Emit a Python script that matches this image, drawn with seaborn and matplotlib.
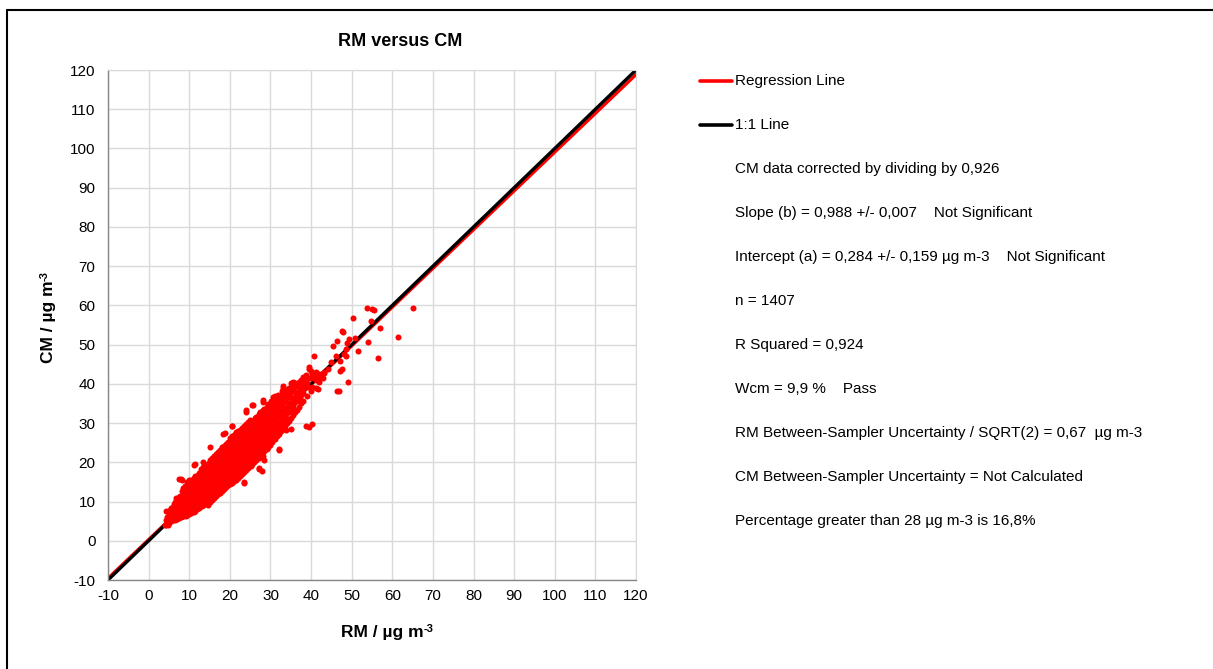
import matplotlib
matplotlib.use("Agg")
import matplotlib.pyplot as plt
from matplotlib.lines import Line2D
import numpy as np
import pandas as pd
import seaborn as sns

# --- DATA ---
# dense band of RM / CM pairs, column by column
core_pts = [
    (4.1, 4.0), (4.3, 5.2), (4.6, 6.0),
    (5.0, 4.6), (5.2, 5.8), (4.9, 7.0), (5.3, 7.9),
    (6.0, 5.2), (5.8, 6.3), (6.2, 7.4), (6.0, 8.5), (6.3, 9.3),
    (7.1, 5.6), (6.9, 6.7), (7.2, 7.8), (7.0, 8.9), (7.3, 10.0), (6.8, 11.0),
    (8.0, 6.0), (8.2, 7.1), (7.9, 8.2), (8.1, 9.3), (8.3, 10.4), (7.8, 11.5), (8.2, 12.6),
    (9.1, 6.3), (8.9, 7.4), (9.2, 8.5), (9.0, 9.6), (9.3, 10.7), (8.8, 11.8), (9.1, 12.9), (9.0, 13.9),
    (10.0, 6.8), (10.2, 7.9), (9.9, 9.0), (10.1, 10.1), (10.3, 11.2), (9.8, 12.3), (10.1, 13.4), (10.2, 14.5), (9.9, 15.4),
    (11.1, 7.3), (10.9, 8.4), (11.2, 9.5), (11.0, 10.6), (11.3, 11.7), (10.8, 12.8), (11.1, 13.9), (11.0, 15.0), (11.2, 16.0),
    (12.0, 8.0), (12.2, 9.1), (11.9, 10.2), (12.1, 11.3), (12.3, 12.4), (11.8, 13.5), (12.1, 14.6), (12.0, 15.7), (12.2, 16.8),
    (13.1, 8.8), (12.9, 9.9), (13.2, 11.0), (13.0, 12.1), (13.3, 13.2), (12.8, 14.3), (13.1, 15.4), (13.0, 16.5), (13.2, 17.6), (12.9, 18.4),
    (14.0, 9.4), (14.2, 10.5), (13.9, 11.6), (14.1, 12.7), (14.3, 13.8), (13.8, 14.9), (14.1, 16.0), (14.0, 17.1), (14.2, 18.2), (13.9, 19.3),
    (15.1, 10.0), (14.9, 11.1), (15.2, 12.2), (15.0, 13.3), (15.3, 14.4), (14.8, 15.5), (15.1, 16.6), (15.0, 17.7), (15.2, 18.8), (14.9, 19.9), (15.1, 20.6),
    (16.0, 11.0), (16.2, 12.1), (15.9, 13.2), (16.1, 14.3), (16.3, 15.4), (15.8, 16.5), (16.1, 17.6), (16.0, 18.7), (16.2, 19.8), (15.9, 20.9), (16.1, 21.5),
    (17.1, 11.9), (16.9, 13.0), (17.2, 14.1), (17.0, 15.2), (17.3, 16.3), (16.8, 17.4), (17.1, 18.5), (17.0, 19.6), (17.2, 20.7), (16.9, 21.8), (17.1, 22.6),
    (18.0, 12.8), (18.2, 13.9), (17.9, 15.0), (18.1, 16.1), (18.3, 17.2), (17.8, 18.3), (18.1, 19.4), (18.0, 20.5), (18.2, 21.6), (17.9, 22.7), (18.1, 23.8),
    (19.1, 13.7), (18.9, 14.8), (19.2, 15.9), (19.0, 17.0), (19.3, 18.1), (18.8, 19.2), (19.1, 20.3), (19.0, 21.4), (19.2, 22.5), (18.9, 23.6), (19.1, 24.7),
    (20.0, 14.5), (20.2, 15.6), (19.9, 16.7), (20.1, 17.8), (20.3, 18.9), (19.8, 20.0), (20.1, 21.1), (20.0, 22.2), (20.2, 23.3), (19.9, 24.4), (20.1, 25.5), (20.0, 26.3),
    (21.1, 15.2), (20.9, 16.3), (21.2, 17.4), (21.0, 18.5), (21.3, 19.6), (20.8, 20.7), (21.1, 21.8), (21.0, 22.9), (21.2, 24.0), (20.9, 25.1), (21.1, 26.2), (21.0, 27.0),
    (22.0, 16.0), (22.2, 17.1), (21.9, 18.2), (22.1, 19.3), (22.3, 20.4), (21.8, 21.5), (22.1, 22.6), (22.0, 23.7), (22.2, 24.8), (21.9, 25.9), (22.1, 27.0), (22.0, 27.9),
    (23.1, 17.0), (22.9, 18.1), (23.2, 19.2), (23.0, 20.3), (23.3, 21.4), (22.8, 22.5), (23.1, 23.6), (23.0, 24.7), (23.2, 25.8), (22.9, 26.9), (23.1, 28.0), (23.0, 28.8),
    (24.0, 18.0), (24.2, 19.1), (23.9, 20.2), (24.1, 21.3), (24.3, 22.4), (23.8, 23.5), (24.1, 24.6), (24.0, 25.7), (24.2, 26.8), (23.9, 27.9), (24.1, 29.0), (24.0, 29.8),
    (25.1, 19.0), (24.9, 20.1), (25.2, 21.2), (25.0, 22.3), (25.3, 23.4), (24.8, 24.5), (25.1, 25.6), (25.0, 26.7), (25.2, 27.8), (24.9, 28.9), (25.1, 30.0), (25.0, 30.8),
    (26.0, 20.2), (26.2, 21.3), (25.9, 22.4), (26.1, 23.5), (26.3, 24.6), (25.8, 25.7), (26.1, 26.8), (26.0, 27.9), (26.2, 29.0), (25.9, 30.1), (26.1, 31.2),
    (27.1, 21.2), (26.9, 22.3), (27.2, 23.4), (27.0, 24.5), (27.3, 25.6), (26.8, 26.7), (27.1, 27.8), (27.0, 28.9), (27.2, 30.0), (26.9, 31.1), (27.1, 32.2),
    (28.0, 22.4), (28.2, 23.5), (27.9, 24.6), (28.1, 25.7), (28.3, 26.8), (27.8, 27.9), (28.1, 29.0), (28.0, 30.1), (28.2, 31.2), (27.9, 32.3), (28.1, 33.3),
    (29.1, 23.3), (28.9, 24.4), (29.2, 25.5), (29.0, 26.6), (29.3, 27.7), (28.8, 28.8), (29.1, 29.9), (29.0, 31.0), (29.2, 32.1), (28.9, 33.2), (29.1, 34.2),
    (30.0, 24.5), (30.2, 25.6), (29.9, 26.7), (30.1, 27.8), (30.3, 28.9), (29.8, 30.0), (30.1, 31.1), (30.0, 32.2), (30.2, 33.3), (29.9, 34.4), (30.1, 35.5),
    (31.1, 26.0), (30.9, 27.1), (31.2, 28.2), (31.0, 29.3), (31.3, 30.4), (30.8, 31.5), (31.1, 32.6), (31.0, 33.7), (31.2, 34.8), (30.9, 35.9), (31.1, 36.8),
    (32.0, 27.2), (32.2, 28.3), (31.9, 29.4), (32.1, 30.5), (32.3, 31.6), (31.8, 32.7), (32.1, 33.8), (32.0, 34.9), (32.2, 36.0), (31.9, 37.1),
    (33.1, 28.5), (32.9, 29.6), (33.2, 30.7), (33.0, 31.8), (33.3, 32.9), (32.8, 34.0), (33.1, 35.1), (33.0, 36.2), (33.2, 37.3), (32.9, 38.2),
    (34.0, 30.0), (34.2, 31.1), (33.9, 32.2), (34.1, 33.3), (34.3, 34.4), (33.8, 35.5), (34.1, 36.6), (34.0, 37.7), (34.2, 38.6),
    (35.1, 31.2), (35.2, 33.4), (35.0, 34.5), (35.3, 35.6), (34.8, 36.7), (35.1, 37.8), (35.0, 38.9), (35.2, 39.8),
    (36.0, 32.8), (35.9, 35.0), (36.1, 36.1), (36.3, 37.2), (35.8, 38.3), (36.1, 39.4), (36.0, 40.3),
    (37.1, 34.0), (37.2, 36.2), (37.0, 37.3), (37.3, 38.4), (36.8, 39.5), (37.1, 40.5),
    (38.0, 35.5), (37.9, 37.7), (38.1, 38.8), (38.3, 39.9), (37.9, 40.9), (38.1, 41.8),
    (39.1, 37.0), (39.2, 39.2), (39.0, 40.3), (39.3, 41.4), (38.8, 42.3),
    (40.0, 38.2), (40.2, 39.3), (40.1, 41.5), (40.3, 42.4), (40.0, 43.4),
    (41.1, 38.9), (41.2, 41.1), (41.0, 42.2), (41.3, 43.0),
    (42.0, 40.5), (42.2, 41.6), (41.9, 42.6),
    (43.0, 41.5), (43.2, 42.8),
]

# in-between columns of the dense band (RM value, CM values at that RM)
half_cols = [
    (5.5, [5.0, 6.1, 7.2, 8.3]),
    (6.5, [5.4, 6.5, 7.6, 8.7, 9.8]),
    (7.5, [5.8, 6.9, 8.0, 9.1, 10.2, 11.2]),
    (8.5, [6.2, 7.3, 8.4, 9.5, 10.6, 11.7, 12.8, 13.5]),
    (9.5, [6.6, 7.7, 8.8, 9.9, 11.0, 12.1, 13.2, 14.3, 15.0]),
    (10.5, [7.0, 8.1, 9.2, 10.3, 11.4, 12.5, 13.6, 14.7, 15.6]),
    (11.5, [7.6, 8.7, 9.8, 10.9, 12.0, 13.1, 14.2, 15.3, 16.4]),
    (12.5, [8.4, 9.5, 10.6, 11.7, 12.8, 13.9, 15.0, 16.1, 17.2]),
    (13.5, [9.1, 10.2, 11.3, 12.4, 13.5, 14.6, 15.7, 16.8, 17.9, 18.9]),
    (14.5, [9.7, 10.8, 11.9, 13.0, 14.1, 15.2, 16.3, 17.4, 18.5, 19.6]),
    (15.5, [10.5, 11.6, 12.7, 13.8, 14.9, 16.0, 17.1, 18.2, 19.3, 20.4, 21.1]),
    (16.5, [11.4, 12.5, 13.6, 14.7, 15.8, 16.9, 18.0, 19.1, 20.2, 21.3, 22.1]),
    (17.5, [12.3, 13.4, 14.5, 15.6, 16.7, 17.8, 18.9, 20.0, 21.1, 22.2, 23.2]),
    (18.5, [13.2, 14.3, 15.4, 16.5, 17.6, 18.7, 19.8, 20.9, 22.0, 23.1, 24.2]),
    (19.5, [14.1, 15.2, 16.3, 17.4, 18.5, 19.6, 20.7, 21.8, 22.9, 24.0, 25.1]),
    (20.5, [14.8, 15.9, 17.0, 18.1, 19.2, 20.3, 21.4, 22.5, 23.6, 24.7, 25.8, 26.6]),
    (21.5, [15.6, 16.7, 17.8, 18.9, 20.0, 21.1, 22.2, 23.3, 24.4, 25.5, 26.6, 27.4]),
    (22.5, [16.5, 17.6, 18.7, 19.8, 20.9, 22.0, 23.1, 24.2, 25.3, 26.4, 27.5, 28.3]),
    (23.5, [17.5, 18.6, 19.7, 20.8, 21.9, 23.0, 24.1, 25.2, 26.3, 27.4, 28.5, 29.3]),
    (24.5, [18.5, 19.6, 20.7, 21.8, 22.9, 24.0, 25.1, 26.2, 27.3, 28.4, 29.5, 30.3]),
    (25.5, [19.6, 20.7, 21.8, 22.9, 24.0, 25.1, 26.2, 27.3, 28.4, 29.5, 30.6]),
    (26.5, [20.7, 21.8, 22.9, 24.0, 25.1, 26.2, 27.3, 28.4, 29.5, 30.6, 31.6]),
    (27.5, [21.8, 22.9, 24.0, 25.1, 26.2, 27.3, 28.4, 29.5, 30.6, 31.7, 32.7]),
    (28.5, [22.9, 24.0, 25.1, 26.2, 27.3, 28.4, 29.5, 30.6, 31.7, 32.8, 33.7]),
    (29.5, [23.9, 25.0, 26.1, 27.2, 28.3, 29.4, 30.5, 31.6, 32.7, 33.8, 34.8]),
    (30.5, [25.3, 26.4, 27.5, 28.6, 29.7, 30.8, 31.9, 33.0, 34.1, 35.2]),
    (31.5, [26.6, 28.8, 30.0, 32.1, 34.3, 36.3]),
    (32.5, [27.9, 30.1, 32.3, 34.5, 36.7]),
    (33.5, [29.2, 31.4, 33.6, 35.8, 37.8]),
    (34.5, [30.6, 32.8, 35.0, 37.2, 39.0]),
    (35.5, [32.0, 34.2, 36.4, 38.6]),
    (36.5, [33.4, 35.6, 37.8, 40.0]),
    (37.5, [35.0, 37.1, 39.2, 41.0]),
]

# scattered points around the band and the high-value tail
outer_pts = [
    (4.3, 3.9), (4.7, 3.9), (4.4, 7.7), (8.4, 6.4), (10.1, 7.4), (14.6, 9.2),
    (7.6, 15.7), (8.0, 15.7), (8.3, 15.5), (11.1, 19.4), (11.3, 19.6), (13.4, 20.0),
    (15.0, 23.8), (18.3, 27.2), (18.7, 27.5), (21.6, 27.6), (20.5, 29.3), (20.6, 29.3),
    (19.1, 14.1), (23.4, 14.6), (23.4, 14.9), (27.3, 18.3), (27.9, 17.9), (27.3, 18.6),
    (28.1, 21.7), (28.5, 20.6), (32.2, 23.1), (32.2, 23.4), (33.9, 28.2), (35.1, 28.5),
    (24.0, 33.3), (24.0, 32.9), (25.6, 34.7), (25.5, 34.6), (28.1, 35.8), (28.1, 35.4),
    (30.6, 36.6), (33.0, 39.0), (33.0, 39.5), (35.1, 40.3), (35.5, 40.5),
    (38.8, 29.3), (39.6, 28.9), (40.2, 29.7),
    (39.6, 43.9), (39.6, 44.2), (40.8, 47.0), (41.6, 38.7), (42.0, 41.2), (42.5, 41.9),
    (43.3, 42.9), (44.1, 43.9), (44.9, 45.6), (45.3, 49.7), (46.2, 47.0), (46.4, 50.8),
    (46.5, 38.2), (46.8, 38.3), (47.0, 45.8), (47.0, 43.3), (47.5, 43.7), (47.6, 53.5),
    (47.8, 53.1), (48.2, 47.5), (48.5, 48.8), (48.6, 47.0), (48.9, 50.3), (49.2, 40.5),
    (49.4, 51.5), (50.2, 56.7), (50.7, 51.6), (51.6, 48.3), (53.8, 59.4), (53.9, 50.7),
    (54.8, 56.0), (55.0, 59.1), (55.5, 58.9), (56.4, 46.6), (57.0, 54.2), (61.5, 51.9),
    (65.2, 59.4),
]

slope = 0.988
intercept = 0.284
axis_ticks = list(range(-10, 121, 10))

info_lines = [
    "CM data corrected by dividing by 0,926",
    "Slope (b) = 0,988 +/- 0,007    Not Significant",
    "Intercept (a) = 0,284 +/- 0,159 µg m-3    Not Significant",
    "n = 1407",
    "R Squared = 0,924",
    "Wcm = 9,9 %    Pass",
    "RM Between-Sampler Uncertainty / SQRT(2) = 0,67  µg m-3",
    "CM Between-Sampler Uncertainty = Not Calculated",
    "Percentage greater than 28 µg m-3 is 16,8%",
]

# --- BUILD TABLES ---
half_pts = [(x, y) for x, ys in half_cols for y in ys]
pts = pd.DataFrame(core_pts + half_pts + outer_pts, columns=["RM", "CM"])
line_x = np.array([axis_ticks[0], axis_ticks[-1]], dtype=float)
lines = pd.DataFrame({
    "RM": np.concatenate([line_x, line_x]),
    "CM": np.concatenate([slope * line_x + intercept, line_x]),
    "kind": ["Regression Line"] * 2 + ["1:1 Line"] * 2,
})

# --- PLOT ---
sns.set_style("white")
plt.rcParams["font.family"] = ["Liberation Sans", "DejaVu Sans"]
plt.rcParams["axes.unicode_minus"] = False
plt.rcParams["text.color"] = "black"
plt.rcParams["xtick.color"] = "black"
plt.rcParams["ytick.color"] = "black"

W, H = 1213, 669
fig = plt.figure(figsize=(W / 100, H / 100), dpi=100)
ax = fig.add_axes([108 / W, 1 - 580 / H, 528 / W, 510 / H])

sns.lineplot(data=lines, x="RM", y="CM", hue="kind",
             palette={"Regression Line": "#ff0000", "1:1 Line": "#000000"},
             linewidth=2.4, legend=False, ax=ax, zorder=2)
sns.scatterplot(data=pts, x="RM", y="CM", color="#ff0000", s=19,
                linewidth=0, ax=ax, zorder=3)

ax.set_xlim(-10, 120)
ax.set_ylim(-10, 120)
ax.set_xticks(axis_ticks)
ax.set_yticks(axis_ticks)
ax.grid(True, color="#d9d9d9", linewidth=1)
ax.set_axisbelow(True)
for side in ["top", "right"]:
    ax.spines[side].set_color("#d9d9d9")
for side in ["left", "bottom"]:
    ax.spines[side].set_color("#868686")
    ax.spines[side].set_linewidth(1)
ax.tick_params(axis="x", direction="inout", length=7, color="#868686",
               labelsize=11, pad=3)
ax.tick_params(axis="y", direction="out", length=5, color="#868686",
               labelsize=11, pad=4)
ax.set_xlabel("")
ax.set_ylabel("")

fig.text(400 / W, 1 - 41 / H, "RM versus CM", ha="center", va="center",
         fontsize=13, fontweight="bold")

# axis titles with a plain "-3" superscript
xlab = fig.text(382 / W, 1 - 632 / H, "RM / µg m", ha="center",
                va="center", fontsize=12.5, fontweight="bold")
ax.annotate("-3", xy=(1.0, 1.05), xycoords=xlab, ha="left", va="top",
            fontsize=8, fontweight="bold")
ylab = fig.text(48 / W, 1 - 322 / H, "CM / µg m", ha="center",
                va="center", fontsize=12.5, fontweight="bold", rotation=90)
ax.annotate("-3", xy=(-0.05, 1.0), xycoords=ylab, ha="left", va="bottom",
            fontsize=8, fontweight="bold", rotation=90)

# legend-like entries on the right
legend_items = [("Regression Line", "#ff0000"), ("1:1 Line", "#000000")]
for i, (label, col) in enumerate(legend_items):
    yy = 1 - (81 + 44 * i) / H
    fig.add_artist(Line2D([700 / W, 732 / W], [yy, yy], color=col, linewidth=2.6))
    fig.text(735 / W, yy, label, ha="left", va="center", fontsize=11)

for i, line in enumerate(info_lines):
    fig.text(735 / W, 1 - (169 + 44 * i) / H, line, ha="left", va="center",
             fontsize=11)

# outer frame (top and left edges visible in the reference)
fig.add_artist(Line2D([7 / W, 1.01], [1 - 10 / H, 1 - 10 / H], color="black", linewidth=1.5))
fig.add_artist(Line2D([7 / W, 7 / W], [1 - 10 / H, -0.01], color="black", linewidth=1.5))

plt.savefig("out.png", dpi=100)
